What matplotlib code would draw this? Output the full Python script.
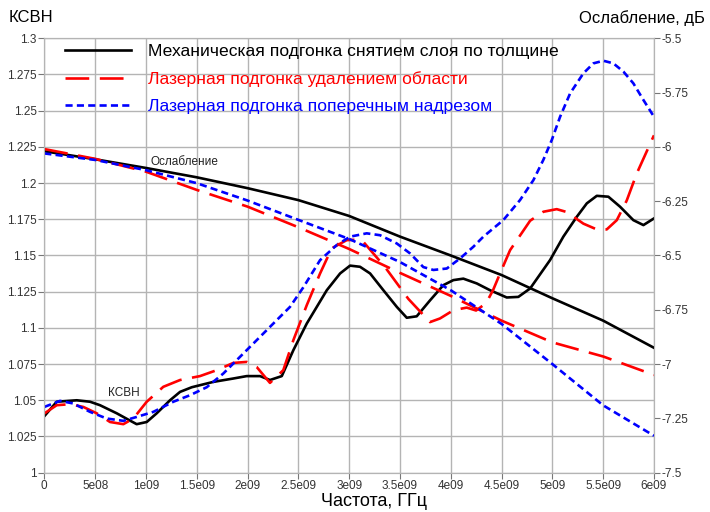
import matplotlib
matplotlib.use('Agg')
import matplotlib.pyplot as plt
import numpy as np

plt.rcParams['font.family'] = ['Liberation Sans', 'DejaVu Sans']

# частота, ГГц, и КСВН для трёх вариантов подгонки
f_mech = [0, 0.122, 0.319, 0.45, 0.548, 0.713, 0.843, 0.909, 1.008, 1.106, 1.237, 1.336, 1.451,
          1.663, 1.857, 1.992, 2.123, 2.221, 2.337, 2.451, 2.583, 2.78, 2.911, 3.009, 3.107, 3.206,
          3.337, 3.469, 3.567, 3.665, 3.796, 3.927, 4.026, 4.124, 4.256, 4.387, 4.551, 4.665, 4.781,
          4.977, 5.108, 5.24, 5.339, 5.437, 5.551, 5.666, 5.797, 5.896, 6.0]
vswr_mech = [1.039, 1.049, 1.050, 1.049, 1.0466, 1.041, 1.036, 1.0335, 1.035, 1.041, 1.050, 1.0558,
             1.059, 1.0627, 1.065, 1.0667, 1.0667, 1.064, 1.0667, 1.0846, 1.103, 1.126, 1.1376,
             1.143, 1.1422, 1.1376, 1.126, 1.1145, 1.107, 1.108, 1.119, 1.1295, 1.133, 1.134,
             1.1307, 1.126, 1.121, 1.1214, 1.1272, 1.1468, 1.163, 1.1767, 1.186, 1.1912, 1.1906,
             1.1837, 1.1744, 1.171, 1.1756]

f_area = [0, 0.122, 0.253, 0.384, 0.516, 0.647, 0.778, 0.876, 1.008, 1.171, 1.336, 1.532, 1.697,
          1.86, 1.992, 2.09, 2.221, 2.352, 2.451, 2.583, 2.714, 2.829, 2.976, 3.107, 3.14, 3.353,
          3.583, 3.796, 3.894, 4.026, 4.157, 4.249, 4.347, 4.416, 4.485, 4.584, 4.781, 4.911,
          5.043, 5.142, 5.305, 5.437, 5.535, 5.634, 5.732, 5.831, 6.0]
vswr_area = [1.0409, 1.0466, 1.0473, 1.0454, 1.041, 1.035, 1.0335, 1.0374, 1.049, 1.0593, 1.064,
             1.0667, 1.0708, 1.0758, 1.0765, 1.073, 1.062, 1.0708, 1.0915, 1.1157, 1.1376, 1.155,
             1.1606, 1.161, 1.1594, 1.142, 1.120, 1.104, 1.1065, 1.1122, 1.114, 1.112, 1.117,
             1.126, 1.1376, 1.1537, 1.174, 1.1802, 1.182, 1.180, 1.172, 1.168, 1.168, 1.1744,
             1.188, 1.2067, 1.233]

f_cut = [0, 0.155, 0.285, 0.45, 0.614, 0.778, 0.909, 1.073, 1.27, 1.434, 1.598, 1.762, 1.926,
         2.09, 2.221, 2.418, 2.549, 2.714, 2.878, 3.009, 3.173, 3.304, 3.469, 3.6, 3.73, 3.829,
         3.961, 4.092, 4.222, 4.321, 4.518, 4.682, 4.813, 4.911, 4.994, 5.076, 5.175, 5.305,
         5.404, 5.502, 5.6, 5.699, 5.797, 5.896, 6.0]
vswr_cut = [1.0454, 1.0496, 1.0478, 1.042, 1.0374, 1.0358, 1.0385, 1.042, 1.049, 1.0535, 1.059,
            1.0685, 1.080, 1.0915, 1.1007, 1.1145, 1.128, 1.1468, 1.1572, 1.163, 1.1653, 1.164,
            1.1583, 1.1514, 1.142, 1.140, 1.141, 1.148, 1.156, 1.163, 1.1745, 1.1883, 1.202,
            1.216, 1.2297, 1.2458, 1.262, 1.2758, 1.2827, 1.2845, 1.2827, 1.277, 1.2689, 1.2574,
            1.2458]

# ослабление, дБ
f_att = [0, 0.5, 1.0, 1.5, 2.0, 2.5, 3.0, 3.5, 4.0, 4.5, 5.0, 5.5, 6.0]
att_mech = [-6.02, -6.057, -6.097, -6.14, -6.19, -6.245, -6.318, -6.413, -6.50, -6.59, -6.697, -6.80, -6.925]
att_area = [-6.01, -6.055, -6.114, -6.198, -6.275, -6.37, -6.47, -6.58, -6.686, -6.80, -6.90, -6.965, -7.05]
att_cut = [-6.03, -6.06, -6.107, -6.167, -6.247, -6.336, -6.424, -6.53, -6.66, -6.815, -7.00, -7.19, -7.33]

labels = ['Механическая подгонка снятием слоя по толщине',
          'Лазерная подгонка удалением области',
          'Лазерная подгонка поперечным надрезом']

x_ticks = [0, 0.5e9, 1e9, 1.5e9, 2e9, 2.5e9, 3e9, 3.5e9, 4e9, 4.5e9, 5e9, 5.5e9, 6e9]
x_tick_labels = ['0', '5e08', '1e09', '1.5e09', '2e09', '2.5e09', '3e09', '3.5e09', '4e09',
                 '4.5e09', '5e09', '5.5e09', '6e09']
y_ticks = [1, 1.025, 1.05, 1.075, 1.1, 1.125, 1.15, 1.175, 1.2, 1.225, 1.25, 1.275, 1.3]
y_tick_labels = ['1', '1.025', '1.05', '1.075', '1.1', '1.125', '1.15', '1.175', '1.2',
                 '1.225', '1.25', '1.275', '1.3']
y2_ticks = [-7.5, -7.25, -7.0, -6.75, -6.5, -6.25, -6.0, -5.75, -5.5]
y2_tick_labels = ['-7.5', '-7.25', '-7', '-6.75', '-6.5', '-6.25', '-6', '-5.75', '-5.5']

styles = [dict(color='black', lw=1.9, linestyle='-'),
          dict(color='#ff0000', lw=1.9, linestyle=(0, (9, 4))),
          dict(color='#0000ff', lw=1.9, linestyle=(0, (2.7, 1.6)))]

fig = plt.figure(figsize=(7.1, 5.12), dpi=100)
ax = fig.add_axes([0.0624, 0.0768, 0.8587, 0.8484])
ax2 = ax.twinx()

hz = 1e9
handles = []
for f, v, st, lab in zip([f_mech, f_area, f_cut], [vswr_mech, vswr_area, vswr_cut], styles, labels):
    h, = ax.plot(np.array(f) * hz, v, label=lab, **st)
    handles.append(h)
for a, st in zip([att_mech, att_area, att_cut], styles):
    ax2.plot(np.array(f_att) * hz, a, **st)

ax.set_xlim(0, 6e9)
ax.set_ylim(1, 1.3)
ax2.set_ylim(-7.5, -5.5)

ax.set_xticks(x_ticks)
ax.set_xticklabels(x_tick_labels)
ax.set_yticks(y_ticks)
ax.set_yticklabels(y_tick_labels)
ax2.set_yticks(y2_ticks)
ax2.set_yticklabels(y2_tick_labels)

grid_c = '#b4b4b4'
ax.grid(True, color=grid_c, lw=1)
for a in (ax, ax2):
    for s in a.spines.values():
        s.set_color(grid_c)
    a.tick_params(length=4, width=0.8, color='#777777', labelsize=8.5, labelcolor='#333333', pad=1.5)

ax.text(1.047e9, 1.2145, 'Ослабление', fontsize=8.5, color='#222222', va='center', ha='left')
ax.text(0.627e9, 1.055, 'КСВН', fontsize=8.5, color='#222222', va='center', ha='left')

fig.text(0.012, 0.965, 'КСВН', fontsize=12, va='center', ha='left')
fig.text(0.993, 0.965, 'Ослабление, дБ', fontsize=12, va='center', ha='right')
fig.text(0.527, 0.021, 'Частота, ГГц', fontsize=13, va='center', ha='center')

leg = ax2.legend(handles, labels, loc='upper left', bbox_to_anchor=(0.0085, 1.023), frameon=False,
                 fontsize=12.6, handlelength=3.77, handletextpad=0.95, labelspacing=0.67,
                 labelcolor='linecolor')

plt.savefig('out.png', dpi=100)
